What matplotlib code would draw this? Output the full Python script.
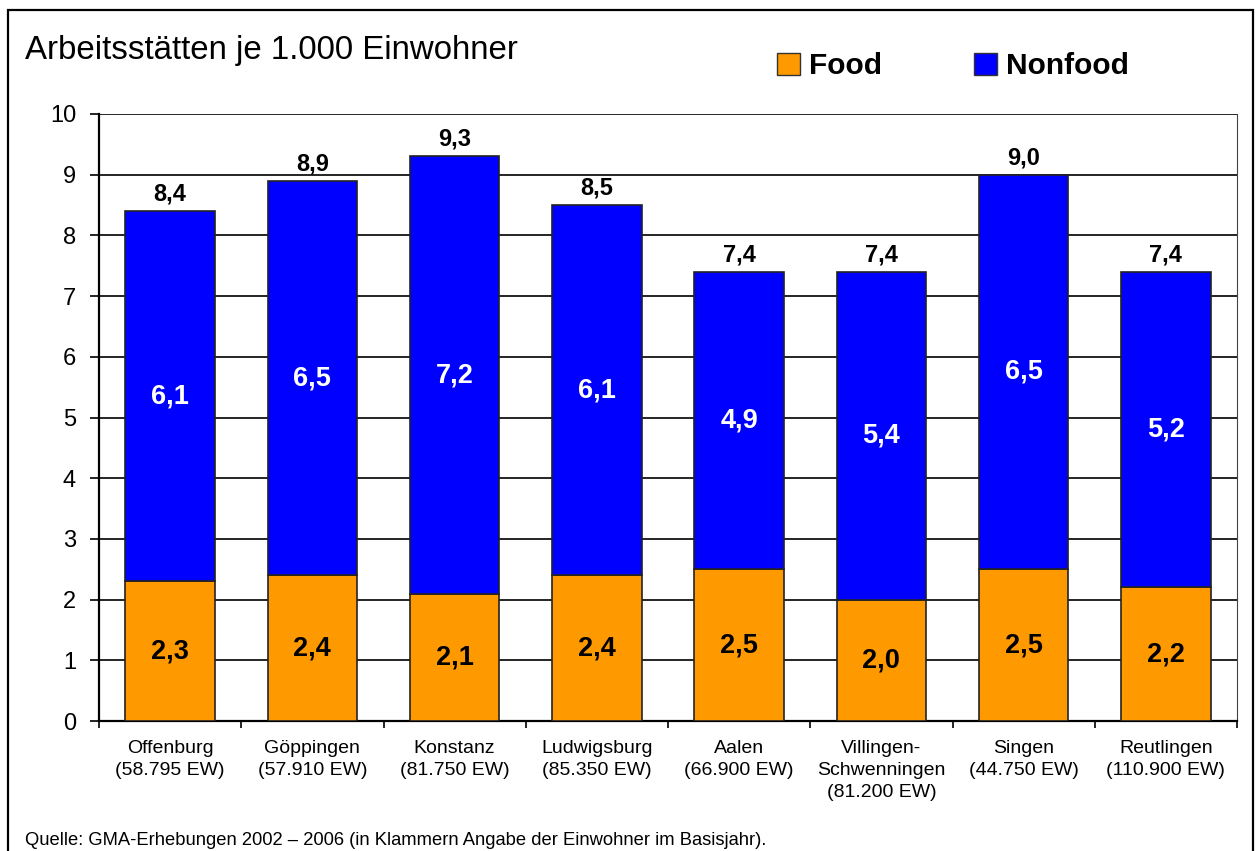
import matplotlib
matplotlib.use("Agg")
import matplotlib.pyplot as plt
from matplotlib.patches import Rectangle, Patch
import numpy as np

plt.rcParams['font.family'] = ['Liberation Sans', 'DejaVu Sans']

# Data: workplaces per 1,000 inhabitants
cities = ["Offenburg\n(58.795 EW)", "Göppingen\n(57.910 EW)", "Konstanz\n(81.750 EW)",
          "Ludwigsburg\n(85.350 EW)", "Aalen\n(66.900 EW)", "Villingen-\nSchwenningen\n(81.200 EW)",
          "Singen\n(44.750 EW)", "Reutlingen\n(110.900 EW)"]
food = [2.3, 2.4, 2.1, 2.4, 2.5, 2.0, 2.5, 2.2]
nonfood = [6.1, 6.5, 7.2, 6.1, 4.9, 5.4, 6.5, 5.2]
y_ticks = list(range(0, 11))

food_color = "#FF9900"
nonfood_color = "#0000FF"

W, H = 1257, 851
fig = plt.figure(figsize=(W / 100, H / 100), dpi=100)

# Outer frame
fig.patches.append(Rectangle((8 / W, -0.05), (1253 - 8) / W, 1 - 10 / H + 0.05,
                             transform=fig.transFigure, fill=False,
                             edgecolor="black", linewidth=1.6, zorder=0))

ax = fig.add_axes([99 / W, 1 - 721 / H, (1237 - 99) / W, (721 - 114) / H])

x = np.arange(len(cities))
width = 0.63
totals = [f + n for f, n in zip(food, nonfood)]

ax.bar(x, food, width, color=food_color, edgecolor="#222222", linewidth=1.2, zorder=3)
ax.bar(x, nonfood, width, bottom=food, color=nonfood_color, edgecolor="#222222",
       linewidth=1.2, zorder=3)

def fmt(v):
    return f"{v:.1f}".replace(".", ",")

for xi, f, n, t in zip(x, food, nonfood, totals):
    ax.text(xi, f / 2, fmt(f), ha="center", va="center", fontsize=19.5,
            fontweight="bold", color="black", zorder=4)
    ax.text(xi, f + n / 2, fmt(n), ha="center", va="center", fontsize=19.5,
            fontweight="bold", color="white", zorder=4)
    ax.annotate(fmt(t), (xi, t), xytext=(0, 4), textcoords="offset points",
                ha="center", va="bottom", fontsize=17, fontweight="bold", zorder=4)

ax.set_xlim(-0.5, len(cities) - 0.5)
ax.set_ylim(0, 10)
ax.set_yticks(y_ticks)
ax.set_yticklabels([str(v) for v in y_ticks], fontsize=17)
ax.yaxis.grid(True, color="black", linewidth=1.2, zorder=1)
ax.set_axisbelow(True)

ax.set_xticks(x)
ax.set_xticklabels(cities, fontsize=14, linespacing=1.36)
ax.set_xticks(np.arange(-0.5, len(cities), 1), minor=True)
ax.tick_params(axis="x", which="major", length=0, pad=14)
ax.tick_params(axis="x", which="minor", length=5, width=1.2, direction="out")
ax.tick_params(axis="y", length=6.5, width=1.2, direction="out", pad=10)

ax.spines["top"].set_visible(False)
ax.spines["left"].set_linewidth(1.6)
ax.spines["bottom"].set_linewidth(1.6)
ax.spines["right"].set_linewidth(0.8)
ax.spines["right"].set_color("#444444")

fig.text(25 / W, 1 - 59 / H, "Arbeitsstätten je 1.000 Einwohner", fontsize=23.8,
         ha="left", va="baseline")

handles = [Patch(facecolor=food_color, edgecolor="#333333", linewidth=1.0),
           Patch(facecolor=nonfood_color, edgecolor="#333333", linewidth=1.0)]
fig.legend(handles, ["Food", "Nonfood"], ncol=2, frameon=False,
           loc="center", bbox_to_anchor=(953 / W, 1 - 66 / H),
           prop={"size": 21.5, "weight": "bold"}, handlelength=0.75,
           handleheight=0.75, handletextpad=0.3, columnspacing=3.1)

fig.text(25 / W, 1 - 845 / H,
         "Quelle: GMA-Erhebungen 2002 – 2006 (in Klammern Angabe der Einwohner im Basisjahr).",
         fontsize=13.2, ha="left", va="baseline")

fig.savefig("out.png", dpi=100)
